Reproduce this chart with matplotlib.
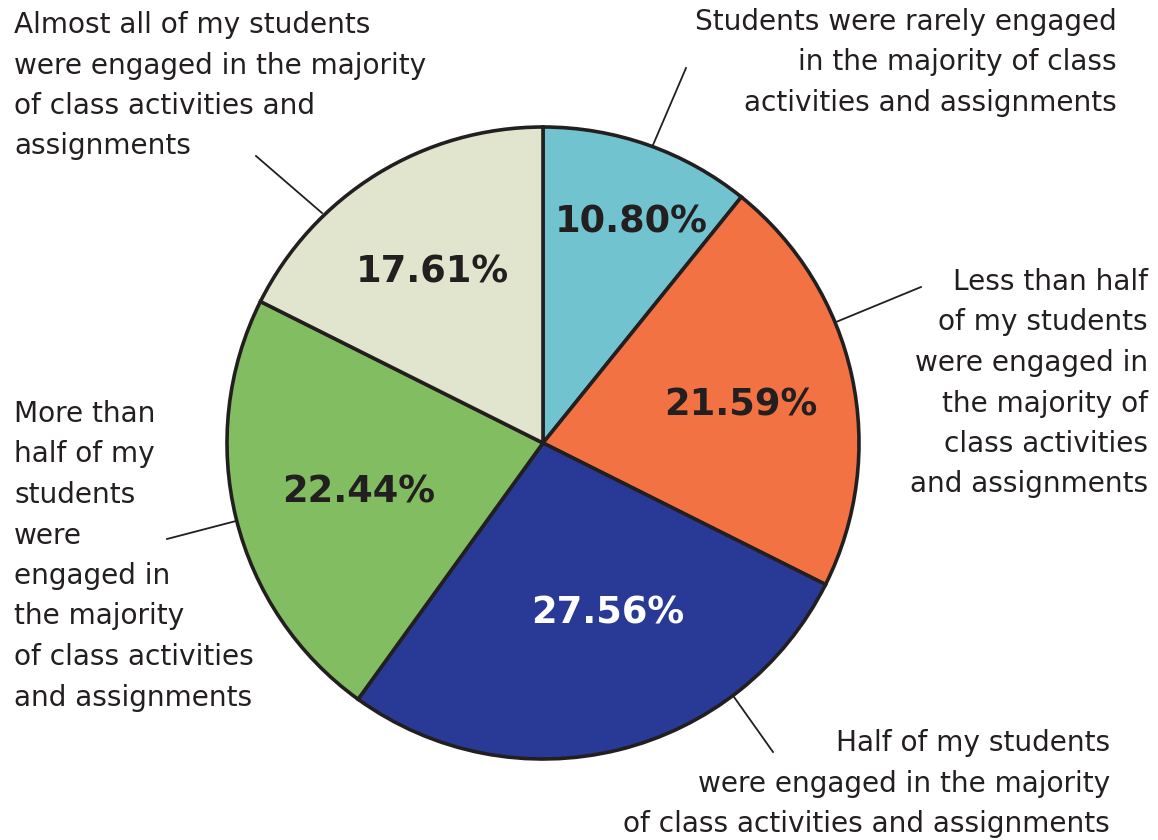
import matplotlib
matplotlib.use("Agg")
import matplotlib.pyplot as plt
import numpy as np

# ---- data ----
categories = [
    "Students were rarely engaged\nin the majority of class\nactivities and assignments",
    "Less than half\nof my students\nwere engaged in\nthe majority of\nclass activities\nand assignments",
    "Half of my students\nwere engaged in the majority\nof class activities and assignments",
    "More than\nhalf of my\nstudents\nwere\nengaged in\nthe majority\nof class activities\nand assignments",
    "Almost all of my students\nwere engaged in the majority\nof class activities and\nassignments",
]
values = [10.80, 21.59, 27.56, 22.44, 17.61]
pct_labels = ["10.80%", "21.59%", "27.56%", "22.44%", "17.61%"]

# ---- styles ----
colors = ["#72C3D0", "#F37243", "#283A96", "#83BD62", "#E1E5CD"]
pct_colors = ["#231F20", "#231F20", "#FFFFFF", "#231F20", "#231F20"]
text_color = "#231F20"
W, H = 1158, 840
cx, cy, R = 543, 443, 316

# label positions in pixel coords (x, first-line center y, ha)
cat_pos = [(1117, 22, "right"), (1148, 282, "right"), (1110, 743, "right"),
           (14, 414, "left"), (14, 25, "left")]
line_gap = 40.5
# leader lines (pixel coords)
leaders = [((653, 145), (686, 68)), ((836, 322), (921, 287)),
           ((734, 697), (773, 752)), ((236, 521), (167, 539)),
           ((322, 213), (256, 156))]
pct_pos = [(631, 222), (741, 405), (608, 613), (359, 492), (432, 272)]

fig = plt.figure(figsize=(W / 100, H / 100), dpi=100)
ax = fig.add_axes([0, 0, 1, 1])
ax.set_xlim(0, W)
ax.set_ylim(0, H)
ax.axis("off")

ax.pie(values, colors=colors, startangle=90, counterclock=False,
       center=(cx, H - cy), radius=R,
       wedgeprops=dict(edgecolor="#231F20", linewidth=2.6), frame=False)
ax.set_xlim(0, W)
ax.set_ylim(0, H)
ax.set_aspect("equal")

font = "DejaVu Sans"
for lab, (x, y0, ha) in zip(categories, cat_pos):
    for i, line in enumerate(lab.split("\n")):
        ax.text(x, H - (y0 + i * line_gap), line, ha=ha, va="center",
                fontsize=20.2, color=text_color, family=font)

for (p1, p2) in leaders:
    ax.plot([p1[0], p2[0]], [H - p1[1], H - p2[1]], color=text_color, lw=1.3)

for lab, (x, y), c in zip(pct_labels, pct_pos, pct_colors):
    ax.text(x, H - y, lab, ha="center", va="center", fontsize=26.5,
            fontweight="bold", color=c, family=font)

fig.savefig("out.png", dpi=100, facecolor="white")
